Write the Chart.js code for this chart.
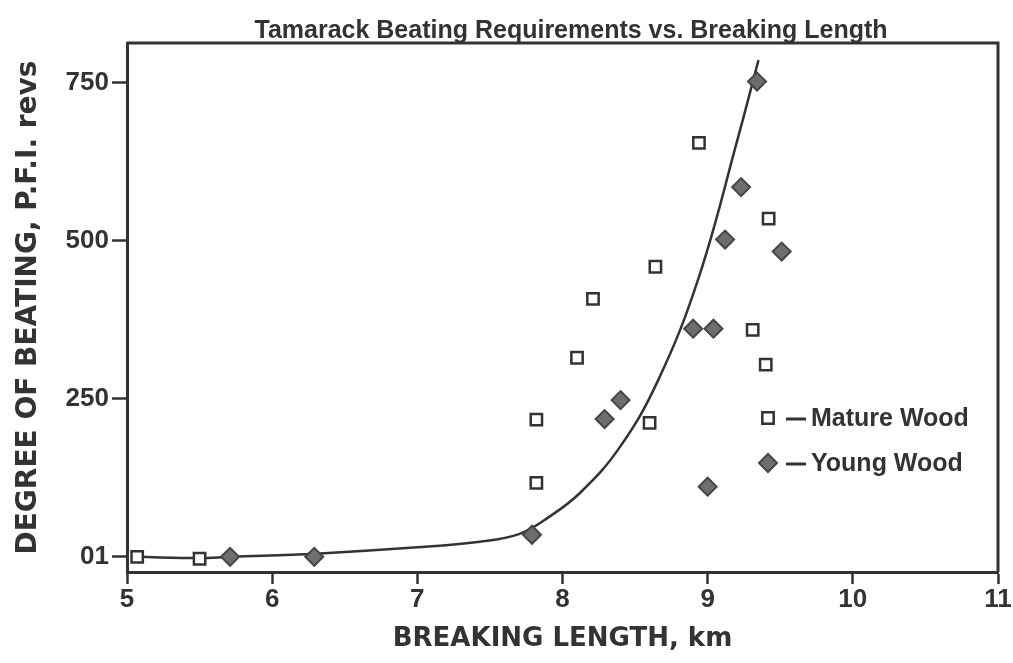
<!DOCTYPE html>
<html>
<head>
<meta charset="utf-8">
<title>Tamarack Beating Requirements vs. Breaking Length</title>
<script src="https://cdn.jsdelivr.net/npm/chart.js@4.4.1/dist/chart.umd.min.js"></script>
<style>
    html, body { margin: 0; padding: 0; background: #fff; }
    #wrap { width: 1013px; height: 663px; position: relative; }
</style>
</head>
<body>
<div id="wrap"><canvas id="beatingChart"></canvas></div>
<script>
// Breaking length (km) vs. PFI revolutions
const matureX = [5.07, 5.50, 7.82, 7.82, 8.10, 8.21, 8.64, 8.60, 8.94, 9.42, 9.31, 9.40];
const matureY = [0, -3, 217, 117, 315, 408, 459, 212, 655, 535, 359, 304];

const youngX = [5.71, 6.29, 7.79, 8.29, 8.40, 8.90, 9.04, 9.00, 9.12, 9.23, 9.51, 9.34];
const youngY = [0, 0, 35, 218, 248, 361, 361, 111, 502, 585, 483, 752];

// fitted trend line
const curveX = [5.07, 5.50, 5.71, 6.30, 7.00, 7.43, 7.70, 7.90, 8.12, 8.39, 8.66, 8.94, 9.21, 9.35];
const curveY = [0, -2, 0, 5, 15, 24, 36, 62, 101, 172, 280, 443, 664, 786];

const yTicks = [0, 250, 500, 750];
const xTicks = [5, 6, 7, 8, 9, 10, 11];

const ink = '#333333';

function toPoints(xs, ys) {
    return xs.map((x, i) => ({ x: x, y: ys[i] }));
}

/**
 * Caja del gráfico, título y leyenda dentro del área
 */
const framePlugin = {
    id: 'frame',
    afterDraw(chart) {
        const ctx = chart.ctx;
        const a = chart.chartArea;
        ctx.save();
        ctx.strokeStyle = ink;
        ctx.lineWidth = 3;
        ctx.beginPath();
        ctx.moveTo(a.left, a.top);
        ctx.lineTo(a.right, a.top);
        ctx.lineTo(a.right, a.bottom);
        ctx.stroke();

        // título
        ctx.fillStyle = ink;
        ctx.font = 'bold 25px "Liberation Sans", Arial, sans-serif';
        ctx.textAlign = 'center';
        ctx.textBaseline = 'middle';
        ctx.fillText('Tamarack Beating Requirements vs. Breaking Length', 571, 31);

        // leyenda
        const items = [
            { ds: chart.data.datasets[0], text: 'Mature Wood', y: a.top + 375 },
            { ds: chart.data.datasets[1], text: 'Young Wood', y: a.top + 420 }
        ];
        const mx = a.left + 641;
        ctx.textAlign = 'left';
        ctx.font = 'bold 25px "Liberation Sans", Arial, sans-serif';
        items.forEach(it => {
            ctx.fillStyle = it.ds.backgroundColor;
            ctx.strokeStyle = it.ds.borderColor;
            ctx.lineWidth = it.ds.borderWidth;
            Chart.helpers.drawPoint(ctx, {
                pointStyle: it.ds.pointStyle,
                radius: it.ds.pointRadius,
                rotation: 0,
                borderWidth: it.ds.borderWidth
            }, mx, it.y);
            ctx.strokeStyle = ink;
            ctx.lineWidth = 3;
            ctx.beginPath();
            ctx.moveTo(mx + 18, it.y + 1);
            ctx.lineTo(mx + 38, it.y + 1);
            ctx.stroke();
            ctx.fillStyle = ink;
            ctx.fillText(it.text, mx + 43, it.y + 1);
        });
        ctx.restore();
    }
};

const ctx = document.getElementById('beatingChart').getContext('2d');

new Chart(ctx, {
    type: 'scatter',
    data: {
        datasets: [
            {
                label: 'Mature Wood',
                data: toPoints(matureX, matureY),
                pointStyle: 'rect',
                pointRadius: 8,
                backgroundColor: '#ffffff',
                borderColor: '#333333',
                borderWidth: 2.5,
                order: 1
            },
            {
                label: 'Young Wood',
                data: toPoints(youngX, youngY),
                pointStyle: 'rectRot',
                pointRadius: 9,
                backgroundColor: '#6e6e6e',
                borderColor: '#464646',
                borderWidth: 2,
                order: 0
            },
            {
                label: 'Trend',
                data: toPoints(curveX, curveY),
                showLine: true,
                pointRadius: 0,
                borderColor: ink,
                borderWidth: 2.5,
                tension: 0.4,
                fill: false,
                order: 2
            }
        ]
    },
    options: {
        responsive: true,
        maintainAspectRatio: false,
        animation: false,
        layout: { padding: { top: 43, right: 15, left: 0, bottom: 0 } },
        plugins: {
            legend: { display: false },
            tooltip: { enabled: false },
            title: { display: false }
        },
        scales: {
            x: {
                type: 'linear',
                min: 5,
                max: 11,
                afterBuildTicks: s => { s.ticks = xTicks.map(v => ({ value: v })); },
                afterFit: s => { s.height = 91; },
                border: { display: true, color: ink, width: 3 },
                grid: { drawOnChartArea: false, drawTicks: true, tickLength: 12, tickColor: ink, tickWidth: 2.5 },
                ticks: {
                    padding: 0,
                    color: ink,
                    font: { family: '"Liberation Sans", Arial, sans-serif', size: 26, weight: 'bold' }
                },
                title: {
                    display: true,
                    text: 'BREAKING LENGTH, km',
                    color: ink,
                    padding: { top: 0, bottom: 8 },
                    font: { family: '"DejaVu Sans", sans-serif', size: 26, weight: 'bold' }
                }
            },
            y: {
                type: 'linear',
                min: -24,
                max: 813,
                afterBuildTicks: s => { s.ticks = yTicks.map(v => ({ value: v })); },
                afterFit: s => { s.width = 127; },
                border: { display: true, color: ink, width: 3 },
                grid: { drawOnChartArea: false, drawTicks: true, tickLength: 15, tickColor: ink, tickWidth: 2.5 },
                ticks: {
                    padding: 3,
                    color: ink,
                    font: { family: '"Liberation Sans", Arial, sans-serif', size: 26, weight: 'bold' },
                    callback: v => v === 0 ? '01' : String(v)
                },
                title: {
                    display: true,
                    text: 'DEGREE OF BEATING, P.F.I. revs',
                    color: ink,
                    padding: { top: 12, bottom: 0 },
                    font: { family: '"DejaVu Sans", sans-serif', size: 28, weight: 'bold' }
                }
            }
        }
    },
    plugins: [framePlugin]
});
</script>
</body>
</html>
